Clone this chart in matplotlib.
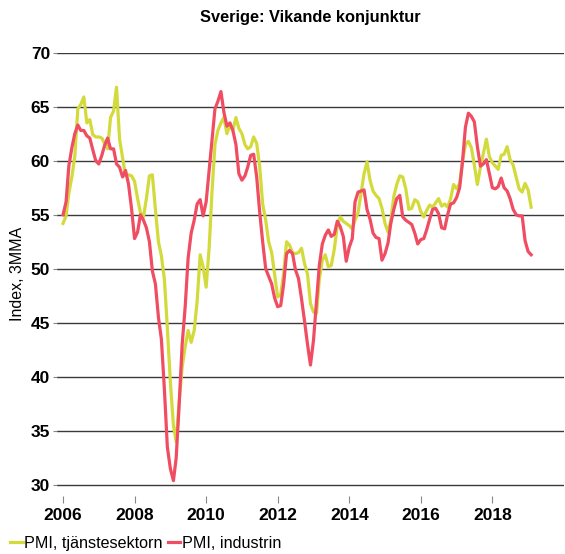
import numpy as np
import pandas as pd
import matplotlib
matplotlib.use("Agg")
import matplotlib.pyplot as plt
import matplotlib.dates as mdates

# DATA #######################################################################
# monthly values, Jan 2006 onwards

start_month = "2006-01-01"

pmi_tjanst = [
    54.2, 54.9, 57.0, 58.5, 60.4, 64.8, 65.2, 65.9, 63.5, 63.8, 62.4, 62.2,
    62.2, 62.1, 61.6, 61.1, 64.0, 64.6, 66.8, 62.0, 60.3, 58.6, 58.7, 58.6,
    58.1, 56.5, 55.2, 54.8, 56.5, 58.6, 58.7, 55.5, 52.5, 51.2, 49.0, 44.5,
    39.5, 35.5, 34.0, 37.8, 40.9, 42.8, 44.3, 43.2, 44.3, 47.0, 51.3, 50.2,
    48.3, 52.0, 57.0, 61.5, 62.8, 63.5, 64.0, 62.5, 63.3, 62.8, 64.0, 63.0,
    62.5, 61.5, 61.1, 61.3, 62.2, 61.6, 59.5, 56.0, 54.5, 52.5, 51.5, 49.5,
    47.4, 47.6, 49.5, 52.5, 52.2, 51.5, 51.4, 51.5, 51.9, 50.5, 49.5, 46.8,
    46.0, 45.9, 49.0, 50.8, 51.3, 50.2, 50.3, 51.8, 54.0, 54.8, 54.4, 54.2,
    54.0, 53.7, 54.5, 55.2, 57.0, 58.8, 59.9, 58.2, 57.2, 56.8, 56.5, 55.6,
    54.2, 53.4, 54.5, 56.7, 57.8, 58.6, 58.5, 57.4, 55.5, 55.6, 56.4, 56.2,
    55.3, 54.8, 55.4, 55.9, 55.7, 56.1, 56.5, 55.8, 56.0, 55.7, 56.5, 57.8,
    57.4, 57.9, 59.9, 61.5, 61.8, 61.2, 59.6, 57.8, 59.4, 60.7, 62.0, 60.4,
    59.8, 59.5, 59.2, 60.5, 60.6, 61.3, 60.1, 59.6, 58.5, 57.4, 57.1, 57.9,
    57.3, 55.7,
]

pmi_industri = [
    55.0, 56.2, 59.5, 61.2, 62.5, 63.3, 62.8, 62.8, 62.3, 62.1, 61.0, 60.0,
    59.7, 60.5, 61.4, 62.1, 61.1, 61.1, 59.7, 59.4, 58.5, 59.1, 57.8, 55.6,
    52.8, 53.4, 55.0, 54.5, 53.8, 52.5, 49.8, 48.6, 45.5, 43.5, 38.8, 33.5,
    31.5, 30.4, 32.5, 37.5, 43.0, 46.5, 51.0, 53.3, 54.5, 56.0, 56.4, 54.9,
    56.2, 59.2, 62.0, 64.8, 65.5, 66.4, 64.5, 63.2, 63.5, 62.8, 61.5, 58.8,
    58.2, 58.6, 59.4, 60.5, 60.6, 58.5, 55.3, 52.5, 50.0, 49.3, 48.6, 47.3,
    46.5, 46.6, 48.5, 51.4, 51.7, 51.4, 49.9, 49.1, 47.2, 45.2, 43.0, 41.1,
    43.4, 47.0, 50.3, 52.3, 53.1, 53.6, 53.0, 53.2, 54.4, 53.9, 53.0, 50.7,
    52.0, 52.8, 56.2, 57.1, 57.2, 57.3, 55.5, 54.6, 53.3, 52.9, 52.8, 50.8,
    51.4, 52.4, 54.2, 55.5, 56.5, 56.8, 54.8, 54.5, 54.3, 54.1, 53.3, 52.3,
    52.7, 52.8, 53.6, 54.6, 55.5, 55.6, 55.1, 53.8, 53.7, 55.0, 56.0, 56.1,
    56.6, 57.5, 59.8, 63.1, 64.4, 64.1, 63.6, 61.3, 59.5, 59.7, 60.1, 58.8,
    57.5, 57.4, 57.6, 58.4, 57.5, 57.2, 56.5, 55.5, 55.0, 54.9, 54.9, 52.6,
    51.6, 51.3,
]

series_labels = ["PMI, tjänstesektorn", "PMI, industrin"]
series_colors = ["#d3da3c", "#f04c62"]

y_ticks = [30, 35, 40, 45, 50, 55, 60, 65, 70]
x_tick_years = [2006, 2008, 2010, 2012, 2014, 2016, 2018]

title = "Sverige: Vikande konjunktur"
y_label = "Index, 3MMA"

# PLOT #######################################################################

plt.rcParams["font.family"] = ["Liberation Sans", "DejaVu Sans"]

dates = pd.date_range(start_month, periods=len(pmi_tjanst), freq="MS")

fig = plt.figure(figsize=(5.65, 5.54), dpi=100)
ax = fig.add_axes([0.101, 0.105, 0.897, 0.80])

for vals, lab, col in zip([pmi_tjanst, pmi_industri], series_labels, series_colors):
    ax.plot(dates, vals, color=col, linewidth=2.3, label=lab,
            solid_joinstyle="round", zorder=3)

ax.set_ylim(29.0, 70.0)
ax.set_xlim(pd.Timestamp("2005-11-01"), pd.Timestamp("2020-01-01"))
ax.set_yticks(y_ticks)
ax.set_yticklabels([str(t) for t in y_ticks], fontsize=12.5, fontweight="bold")
ax.set_xticks([pd.Timestamp(f"{y}-01-01") for y in x_tick_years])
ax.set_xticklabels([str(y) for y in x_tick_years], fontsize=12.5, fontweight="bold")

for t in y_ticks:
    ax.axhline(t, color="#3a3a3a", linewidth=1.0, zorder=1)

for s in ax.spines.values():
    s.set_visible(False)
ax.tick_params(axis="y", length=3, width=0.8, color="#888888", pad=2)
ax.tick_params(axis="x", length=5, width=0.8, color="#888888", pad=4)

ax.set_ylabel(y_label, fontsize=11.5, labelpad=4)
fig.text(0.55, 0.968, title, ha="center", va="center",
         fontsize=11.8, fontweight="bold")

leg = fig.legend(loc="lower left", bbox_to_anchor=(0.0, -0.012), ncol=2,
                 frameon=False, fontsize=11.6, handlelength=0.8,
                 handletextpad=0.1, columnspacing=0.3, borderaxespad=0.2)

fig.savefig("out.png", dpi=100)
